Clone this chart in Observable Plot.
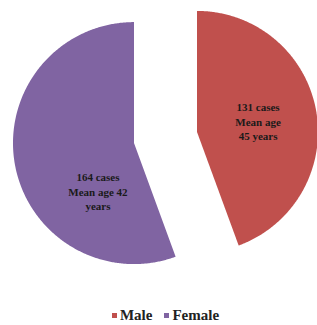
<!DOCTYPE html>
<html><head><meta charset="utf-8">
<script src="https://cdn.jsdelivr.net/npm/d3@7"></script>
<script src="https://cdn.jsdelivr.net/npm/@observablehq/plot@0.6"></script>
<style>
body{margin:0;background:#fff;}
#legend{font-family:"Liberation Serif","DejaVu Serif",serif;font-weight:bold;font-size:15px;color:#222;display:flex;justify-content:center;align-items:center;height:25px;padding-left:26px;margin-top:3px;}
#legend span.sw{display:inline-block;width:5px;height:5px;margin-right:3px;}
#legend span.it{margin-right:12px;display:flex;align-items:center;}
</style>
</head><body>
<div id="chart"></div>
<script>
const categories = ["Male", "Female"];
const cases = [131, 164];
const labels = [["131 cases", "Mean age", "45 years"], ["164 cases", "Mean age 42", "years"]];
const colors = ["#C0504D", "#8064A2"];

const R = 121, EXPLODE = 32;
const labelDist = [62, 60];
const labelShift = [0, -43]; // degrees, best-fit label placement
const data = categories.map((c, i) => ({name: c, value: cases[i], color: colors[i]}));
const arcs = d3.pie().sort(null).value(d => d.value)(data);

const polys = [];
const textRows = [];
arcs.forEach((a, i) => {
  const mid = (a.startAngle + a.endAngle) / 2;
  const ox = EXPLODE * Math.sin(mid), oy = EXPLODE * Math.cos(mid);
  polys.push({name: a.data.name, color: a.data.color, x: ox, y: oy});
  const n = Math.ceil((a.endAngle - a.startAngle) / (Math.PI / 360));
  for (let k = 0; k <= n; k++) {
    const t = a.startAngle + (a.endAngle - a.startAngle) * k / n;
    polys.push({name: a.data.name, color: a.data.color, x: ox + R * Math.sin(t), y: oy + R * Math.cos(t)});
  }
  polys.push({name: a.data.name, color: a.data.color, x: ox, y: oy});
  const la = mid + labelShift[i] * Math.PI / 180;
  textRows.push({text: labels[i].join("\n"), x: ox + labelDist[i] * Math.sin(la), y: oy + labelDist[i] * Math.cos(la)});
});

const plot = Plot.plot({
  width: 317, height: 300,
  margin: 0,
  style: {fontFamily: "'Liberation Serif', 'DejaVu Serif', serif"},
  x: {domain: [-165, 152], axis: null},
  y: {domain: [-163, 137], axis: null},
  marks: [
    Plot.line(polys, {x: "x", y: "y", z: "name", fill: d => d.color, stroke: "none", curve: "linear"}),
    Plot.text(textRows, {x: "x", y: "y", text: "text", fontFamily: "'Liberation Serif', 'DejaVu Serif', serif", fontWeight: "bold", fontSize: 11, lineHeight: 1.3, fill: "#1a1a1a"})
  ]
});
document.getElementById("chart").appendChild(plot);

const leg = document.createElement("div");
leg.id = "legend";
categories.forEach((c, i) => {
  const it = document.createElement("span");
  it.className = "it";
  const sw = document.createElement("span");
  sw.className = "sw";
  sw.style.background = colors[i];
  it.appendChild(sw);
  it.appendChild(document.createTextNode(c));
  leg.appendChild(it);
});
document.body.appendChild(leg);
</script>
</body></html>
